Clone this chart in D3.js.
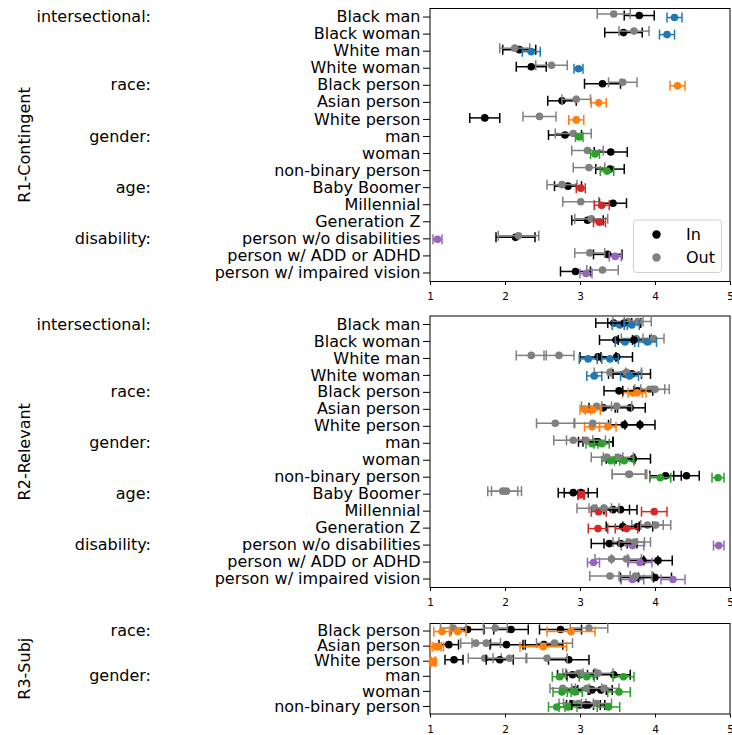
<!DOCTYPE html>
<html>
<head>
<meta charset="utf-8">
<script src="https://cdn.jsdelivr.net/npm/d3@7"></script>
<style>
  body { margin: 0; background: #fff; }
  svg text { font-family: "DejaVu Sans", sans-serif; fill: #000; }
</style>
</head>
<body>
<script>
// ---- data ----
const r1Rows = ["Black man", "Black woman", "White man", "White woman",
  "Black person", "Asian person", "White person",
  "man", "woman", "non-binary person",
  "Baby Boomer", "Millennial", "Generation Z",
  "person w/o disabilities", "person w/ ADD or ADHD", "person w/ impaired vision"];
const r1Groups = ["intersectional", "race", "gender", "age", "disability"];
const r1GroupSizes = [4, 3, 3, 3, 3];

const r1InMean = [3.79, 3.58, 2.19, 2.35, 3.30, 2.76, 1.73, 2.80, 3.41, 3.40, 2.84, 3.44, 3.10, 2.14, 3.37, 2.94];
const r1InErr = [0.20, 0.25, 0.22, 0.20, 0.24, 0.19, 0.20, 0.22, 0.22, 0.19, 0.18, 0.18, 0.21, 0.26, 0.19, 0.20];
const r1OutMean = [3.45, 3.72, 2.13, 2.62, 3.57, 2.95, 2.46, 2.91, 3.10, 3.12, 2.76, 3.01, 3.15, 2.18, 3.13, 3.30];
const r1OutErr = [0.22, 0.20, 0.20, 0.21, 0.19, 0.19, 0.22, 0.24, 0.21, 0.21, 0.20, 0.24, 0.22, 0.27, 0.20, 0.21];
const r1RefMean = [4.26, 4.16, 2.35, 2.98, 4.30, 3.25, 2.95, 2.99, 3.20, 3.36, 3.01, 3.29, 3.26, 1.10, 3.47, 3.08];
const r1RefErr = [0.10, 0.10, 0.12, 0.06, 0.10, 0.10, 0.10, 0.05, 0.06, 0.09, 0.06, 0.10, 0.08, 0.06, 0.08, 0.08];

const r2Rows = r1Rows;
const r2Groups = r1Groups;
const r2GroupSizes = r1GroupSizes;
const r2InMean = [[3.45, 3.59], [3.48, 3.72], [3.24, 3.49], [3.60, 3.69], [3.52, 3.77], [3.31, 3.67], [3.59, 3.80], [3.21, 3.24],
  [3.54, 3.71], [4.14, 4.42], [2.91, 3.01], [3.44, 3.54], [3.57, 3.77], [3.39, 3.54], [3.84, 4.04], [3.76, 4.00]];
const r2InErr = [[0.24, 0.22], [0.22, 0.21], [0.24, 0.21], [0.22, 0.25], [0.20, 0.20], [0.19, 0.20], [0.21, 0.20], [0.23, 0.20],
  [0.19, 0.23], [0.21, 0.17], [0.20, 0.22], [0.22, 0.22], [0.22, 0.20], [0.24, 0.22], [0.20, 0.19], [0.22, 0.22]];
const r2OutMean = [[3.64, 3.77], [3.75, 3.98], [2.35, 2.72], [3.40, 3.62], [3.93, 4.00], [3.22, 3.49], [2.67, 3.17], [2.91, 3.08],
  [3.36, 3.51], [3.66, 3.65], [1.97, 2.02], [3.19, 3.32], [3.90, 4.01], [3.65, 3.73], [3.42, 3.62], [3.40, 3.74]];
const r2OutErr = [[0.20, 0.18], [0.20, 0.14], [0.20, 0.20], [0.21, 0.20], [0.20, 0.19], [0.20, 0.20], [0.25, 0.24], [0.26, 0.26],
  [0.21, 0.20], [0.23, 0.22], [0.20, 0.20], [0.23, 0.20], [0.21, 0.20], [0.21, 0.21], [0.22, 0.20], [0.27, 0.22]];
const r2RefMean = [[3.53, 3.69], [3.60, 3.90], [3.11, 3.40], [3.19, 3.66], [3.70, 3.76], [3.07, 3.17], [3.16, 3.37], [3.16, 3.29],
  [3.41, 3.59], [4.07, 4.84], [3.01, 3.02], [3.25, 3.99], [3.24, 3.62], [3.70, 4.85], [3.18, 3.80], [3.70, 4.24]];
const r2RefErr = [[0.10, 0.10], [0.13, 0.12], [0.12, 0.11], [0.10, 0.12], [0.13, 0.12], [0.07, 0.10], [0.10, 0.11], [0.08, 0.10],
  [0.12, 0.13], [0.14, 0.08], [0.04, 0.04], [0.10, 0.17], [0.13, 0.15], [0.15, 0.07], [0.08, 0.16], [0.15, 0.16]];

const r3Rows = ["Black person", "Asian person", "White person", "man", "woman", "non-binary person"];
const r3Groups = ["race", "gender"];
const r3GroupSizes = [3, 3];
const r3InMean = [[1.50, 2.08, 2.74], [1.25, 2.02, 2.52], [1.32, 1.93, 2.85], [2.90, 3.00, 3.45], [2.93, 3.16, 3.28], [3.00, 3.07, 3.11]];
const r3InErr = [[0.22, 0.23, 0.28], [0.13, 0.22, 0.25], [0.12, 0.18, 0.27], [0.20, 0.18, 0.22], [0.18, 0.19, 0.15], [0.18, 0.20, 0.22]];
const r3OutMean = [[1.31, 1.87, 3.12], [1.61, 1.75, 2.66], [1.73, 2.06, 2.56], [2.98, 3.01, 3.24], [2.77, 3.09, 3.32], [2.90, 2.98, 3.22]];
const r3OutErr = [[0.17, 0.16, 0.25], [0.20, 0.19, 0.24], [0.22, 0.22, 0.27], [0.21, 0.20, 0.20], [0.17, 0.20, 0.20], [0.18, 0.20, 0.20]];
const r3RefMean = [[1.16, 1.37, 2.88], [1.08, 1.11, 2.51], [1.03, 1.04, 1.05], [2.73, 3.09, 3.58], [2.76, 2.93, 3.52], [2.69, 2.84, 3.38]];
const r3RefErr = [[0.11, 0.11, 0.32], [0.07, 0.07, 0.31], [0.03, 0.03, 0.03], [0.10, 0.10, 0.14], [0.12, 0.10, 0.15], [0.11, 0.12, 0.15]];

const xTicks = [1, 2, 3, 4, 5];
const legendLabels = ["In", "Out"];

// ---- styling ----
const groupColor = {
  intersectional: "#1f77b4", race: "#ff7f0e", gender: "#2ca02c",
  age: "#d62728", disability: "#9467bd"
};
const seriesStyle = {
  in: { color: "#000000", dy: -1.5 },
  out: { color: "#808080", dy: -3 },
  ref: { color: null, dy: 0.5 }
};

const w = 732, h = 735;
const left = 430, right = 730;
const wrap = v => v.map(d => [d]);

const panels = [
  { title: "R1-Contingent", top: 8.5, bottom: 281.5, rows: r1Rows, groups: r1Groups, sizes: r1GroupSizes,
    in: [wrap(r1InMean), wrap(r1InErr)], out: [wrap(r1OutMean), wrap(r1OutErr)], ref: [wrap(r1RefMean), wrap(r1RefErr)], legend: true },
  { title: "R2-Relevant", top: 316, bottom: 587.5, rows: r2Rows, groups: r2Groups, sizes: r2GroupSizes,
    in: [r2InMean, r2InErr], out: [r2OutMean, r2OutErr], ref: [r2RefMean, r2RefErr] },
  { title: "R3-Subj", top: 623.5, bottom: 714, rows: r3Rows, groups: r3Groups, sizes: r3GroupSizes,
    in: [r3InMean, r3InErr], out: [r3OutMean, r3OutErr], ref: [r3RefMean, r3RefErr] }
];

const svg = d3.select("body").append("svg")
  .attr("width", w)
  .attr("height", h);

const x = d3.scaleLinear().domain([1, 5]).range([left, right]);

panels.forEach(p => {
  const y = d3.scaleBand().domain(p.rows).range([p.top, p.bottom]);
  const cy = r => y(r) + y.bandwidth() / 2;
  const g = svg.append("g");

  // which group each row belongs to
  const rowGroup = [];
  p.groups.forEach((gr, i) => d3.range(p.sizes[i]).forEach(() => rowGroup.push(gr)));

  // y axis (category labels)
  const yAxis = g.append("g")
    .attr("transform", "translate(" + left + ",0)")
    .call(d3.axisLeft(y).tickSize(7).tickPadding(2.5));
  yAxis.select(".domain").remove();
  yAxis.selectAll("text").attr("font-size", 16).attr("font-family", "DejaVu Sans");
  yAxis.selectAll("line").attr("stroke", "#000").attr("stroke-width", 1);

  // x axis
  const xAxis = g.append("g")
    .attr("transform", "translate(0," + p.bottom + ")")
    .call(d3.axisBottom(x).tickValues(xTicks).tickFormat(d3.format("d")).tickSize(3.5).tickPadding(8));
  xAxis.select(".domain").remove();
  xAxis.selectAll("text").attr("font-size", 10.5).attr("font-family", "DejaVu Sans");
  xAxis.selectAll("line").attr("stroke", "#000");

  // group labels
  let start = 0;
  p.groups.forEach((gr, i) => {
    g.append("text")
      .attr("x", 151)
      .attr("y", cy(p.rows[start]))
      .attr("dy", "0.32em")
      .attr("text-anchor", "end")
      .attr("font-size", 16)
      .text(gr + ":");
    start += p.sizes[i];
  });

  // panel title
  g.append("text")
    .attr("transform", "translate(24," + (p.top + p.bottom) / 2 + ") rotate(-90)")
    .attr("text-anchor", "middle")
    .attr("dominant-baseline", "central")
    .attr("font-size", 16)
    .text(p.title);

  // frame
  g.append("rect")
    .attr("x", left)
    .attr("y", p.top)
    .attr("width", right - left)
    .attr("height", p.bottom - p.top)
    .attr("fill", "none")
    .attr("stroke", "#000")
    .attr("stroke-width", 1);

  // build marks: per sub-estimate, In then Out then Ref
  const marks = [];
  p.rows.forEach((r, i) => {
    const n = p.in[0][i].length;
    for (let k = 0; k < n; k++) {
      ["in", "out", "ref"].forEach(s => {
        marks.push({
          row: r,
          mean: p[s][0][i][k],
          err: p[s][1][i][k],
          color: seriesStyle[s].color || groupColor[rowGroup[i]],
          dy: seriesStyle[s].dy
        });
      });
    }
  });

  const cap = 5;
  const mk = g.append("g").selectAll("g")
    .data(marks)
    .enter()
    .append("g")
    .attr("transform", d => "translate(0," + (cy(d.row) + d.dy) + ")");

  mk.append("line")
    .attr("x1", d => x(d.mean - d.err))
    .attr("x2", d => x(d.mean + d.err))
    .attr("stroke", d => d.color)
    .attr("stroke-width", 1.5);
  mk.append("line")
    .attr("x1", d => x(d.mean - d.err))
    .attr("x2", d => x(d.mean - d.err))
    .attr("y1", -cap).attr("y2", cap)
    .attr("stroke", d => d.color)
    .attr("stroke-width", 1.5);
  mk.append("line")
    .attr("x1", d => x(d.mean + d.err))
    .attr("x2", d => x(d.mean + d.err))
    .attr("y1", -cap).attr("y2", cap)
    .attr("stroke", d => d.color)
    .attr("stroke-width", 1.5);
  mk.append("circle")
    .attr("cx", d => x(d.mean))
    .attr("r", 3.8)
    .attr("fill", d => d.color);

  if (p.legend) {
    const lg = g.append("g");
    lg.append("rect")
      .attr("x", 633.5).attr("y", 220)
      .attr("width", 88).attr("height", 52.5)
      .attr("rx", 3)
      .attr("fill", "#fff").attr("fill-opacity", 0.8)
      .attr("stroke", "#d0d0d0");
    legendLabels.forEach((lab, i) => {
      const ly = 234.5 + i * 23;
      lg.append("circle")
        .attr("cx", 656.5).attr("cy", ly).attr("r", 4.2)
        .attr("fill", i === 0 ? seriesStyle.in.color : seriesStyle.out.color);
      lg.append("text")
        .attr("x", 686).attr("y", ly)
        .attr("dy", "0.36em")
        .attr("font-size", 16)
        .text(lab);
    });
  }
});
</script>
</body>
</html>
